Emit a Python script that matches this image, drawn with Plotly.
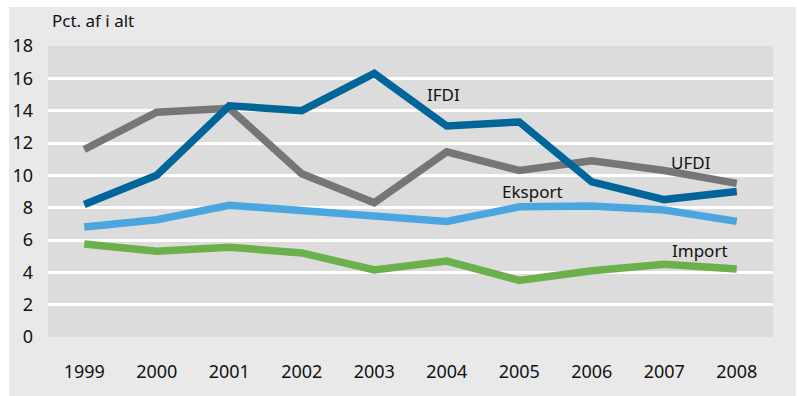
import plotly.graph_objects as go

years = ["1999", "2000", "2001", "2002", "2003", "2004", "2005", "2006", "2007", "2008"]
ifdi = [8.2, 10.0, 14.3, 14.0, 16.3, 13.05, 13.3, 9.6, 8.5, 9.0]
ufdi = [11.6, 13.9, 14.15, 10.1, 8.3, 11.45, 10.3, 10.9, 10.3, 9.5]
eksport = [6.8, 7.25, 8.15, 7.85, 7.55, 7.15, 8.05, 8.1, 7.85, 7.15]
import_ = [5.75, 5.3, 5.55, 5.2, 4.15, 4.7, 3.5, 4.1, 4.5, 4.2]

FONT = "Noto Sans"
W, H = 797, 396
ML, MR, MT, MB = 48, 24, 46, 59
PW, PH = W - ML - MR, H - MT - MB

fig = go.Figure()
series = [
    ("Import", import_, "#6ab04c"),
    ("Eksport", eksport, "#4aa6de"),
    ("UFDI", ufdi, "#767676"),
    ("IFDI", ifdi, "#006699"),
]
for name, vals, col in series:
    fig.add_trace(go.Scatter(x=years, y=vals, mode="lines", name=name,
                             line=dict(color=col, width=7.5), showlegend=False))

# Direct series labels
labels = [
    ("IFDI", 4.96, 14.97),
    ("UFDI", 8.37, 10.8),
    ("Eksport", 6.18, 9.03),
    ("Import", 8.49, 5.38),
]
for text, xv, yv in labels:
    fig.add_annotation(x=xv, y=yv, xref="x", yref="y", text=text, showarrow=False,
                       font=dict(family=FONT, size=17, color="#111111"))

# Unit caption above the value axis
fig.add_annotation(x=(50 - ML) / PW, y=1 + (MT - 20) / PH, xref="paper", yref="paper",
                   text="Pct. af i alt", showarrow=False, xanchor="left", yanchor="middle",
                   font=dict(family=FONT, size=17, color="#111111"))

# Grey panel inset inside a thin white border, then the darker plot area
fig.add_shape(type="rect", xref="paper", yref="paper", layer="below",
              x0=(9 - ML) / PW, x1=1 + (MR - 1) / PW,
              y0=-MB / PH, y1=1 + (MT - 7) / PH,
              fillcolor="#e9e9e9", line=dict(width=0))
fig.add_shape(type="rect", xref="paper", yref="paper", layer="below",
              x0=0, x1=1, y0=0, y1=1,
              fillcolor="#dcdcdc", line=dict(width=0))

fig.update_layout(
    width=W, height=H,
    margin=dict(l=ML, r=MR, t=MT, b=MB),
    paper_bgcolor="#ffffff",
    plot_bgcolor="#dcdcdc",
    font=dict(family=FONT, size=18, color="#111111"),
    xaxis=dict(type="category", range=[-0.5, 9.5], showgrid=False, zeroline=False,
               showline=False, ticks="", ticklabelstandoff=22,
               tickfont=dict(family=FONT, size=18)),
    yaxis=dict(range=[0, 18], dtick=2, showgrid=True, gridcolor="#ffffff", gridwidth=3,
               zeroline=False, showline=False, ticks="", ticklabelstandoff=14,
               tickfont=dict(family=FONT, size=18)),
)

fig.write_html("out.html")
